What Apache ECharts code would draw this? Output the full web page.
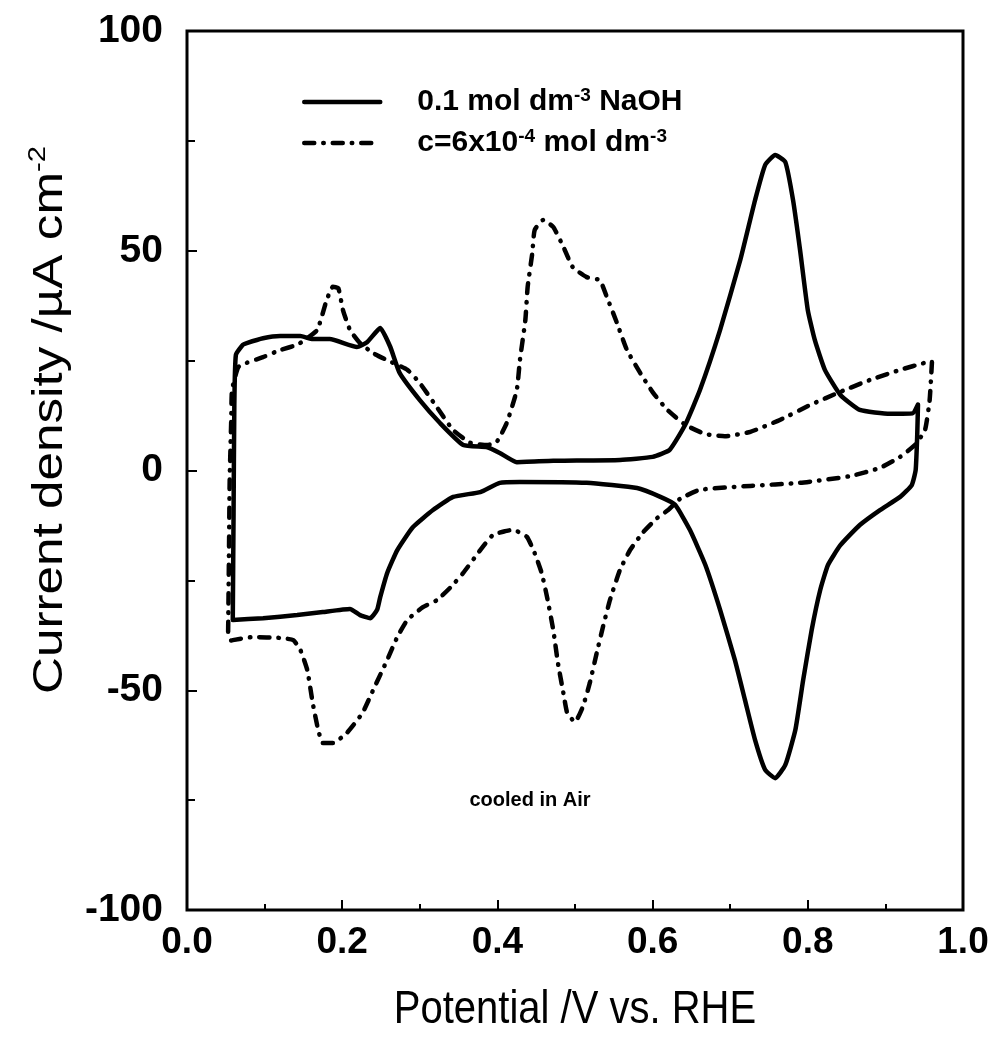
<!DOCTYPE html>
<html>
<head>
<meta charset="utf-8">
<script src="https://cdn.jsdelivr.net/npm/echarts@6/dist/echarts.min.js"></script>
<style>
  html, body { margin: 0; padding: 0; background: #fff; }
  #chart { width: 995px; height: 1049px; }
</style>
</head>
<body>
<div id="chart"></div>
<script>
// Cyclic voltammograms: potential (V vs. RHE) vs. current density (µA cm-2)

const xTicks = [0.0, 0.2, 0.4, 0.6, 0.8, 1.0];
const yTicks = [-100, -50, 0, 50, 100];

// 0.1 mol dm-3 NaOH — positive-going sweep
const naohAnodic = [
  [0.059,-34.0],[0.060,-10.0],[0.061,15.0],[0.063,26.3],[0.072,28.6],[0.077,29.0],
  [0.098,30.1],[0.120,30.6],[0.146,30.6],[0.162,29.9],[0.184,29.9],[0.219,28.1],
  [0.232,29.2],[0.249,32.4],[0.262,28.1],[0.274,22.2],[0.300,16.0],[0.326,10.8],
  [0.356,5.8],[0.387,5.3],[0.403,4.0],[0.425,1.9],[0.472,2.2],[0.558,2.4],
  [0.600,3.1],[0.622,4.7],[0.642,10.4],[0.661,18.3],[0.687,32.0],[0.713,47.9],
  [0.732,61.5],[0.745,69.5],[0.758,71.8],[0.771,70.2],[0.781,61.5],[0.790,50.2],
  [0.800,36.5],[0.809,29.7],[0.822,22.9],[0.842,17.2],[0.867,13.8],[0.906,12.9],
  [0.935,13.0],[0.942,15.0]
];
// 0.1 mol dm-3 NaOH — negative-going sweep
const naohCathodic = [
  [0.941,8.0],[0.939,0.1],[0.934,-3.3],[0.919,-6.0],[0.893,-9.0],[0.867,-12.4],
  [0.842,-17.0],[0.826,-21.5],[0.816,-27.2],[0.805,-36.3],[0.794,-47.7],[0.784,-59.0],
  [0.771,-67.0],[0.758,-70.0],[0.745,-68.1],[0.732,-61.3],[0.719,-52.2],[0.706,-43.1],
  [0.687,-31.7],[0.668,-21.5],[0.648,-13.5],[0.629,-7.8],[0.610,-6.0],[0.580,-4.0],
  [0.515,-2.8],[0.429,-2.6],[0.403,-2.8],[0.378,-4.9],[0.343,-6.0],[0.317,-9.0],
  [0.291,-12.9],[0.271,-18.1],[0.258,-23.3],[0.249,-28.8],[0.245,-31.7],[0.236,-33.6],
  [0.223,-32.9],[0.210,-31.5],[0.175,-32.2],[0.142,-32.9],[0.098,-33.6],[0.059,-34.0]
];

// c = 6x10-4 mol dm-3 — positive-going sweep
const diluteAnodic = [
  [0.053,-36.7],[0.054,-20.4],[0.055,-2.2],[0.057,11.5],[0.058,18.3],[0.066,23.5],
  [0.077,24.5],[0.098,25.8],[0.120,27.4],[0.142,28.6],[0.155,30.1],[0.168,32.0],
  [0.180,38.8],[0.188,41.8],[0.195,41.5],[0.201,36.5],[0.210,32.0],[0.223,29.0],
  [0.240,26.7],[0.258,25.1],[0.284,22.9],[0.300,19.9],[0.322,14.4],[0.343,9.2],
  [0.365,6.3],[0.387,5.8],[0.399,6.5],[0.412,10.8],[0.425,18.3],[0.429,25.1],
  [0.436,34.2],[0.439,41.8],[0.445,49.5],[0.448,54.7],[0.459,57.0],[0.472,55.4],
  [0.485,50.9],[0.497,46.3],[0.515,44.0],[0.532,43.3],[0.541,39.5],[0.554,33.6],
  [0.567,27.4],[0.584,22.2],[0.601,17.6],[0.619,13.8],[0.642,10.4],[0.668,8.3],
  [0.693,7.8],[0.726,8.8],[0.764,11.5],[0.803,14.9],[0.842,17.9],[0.880,20.6],
  [0.919,22.9],[0.951,24.5],[0.960,24.7]
];
// c = 6x10-4 mol dm-3 — negative-going sweep
const diluteCathodic = [
  [0.957,16.0],[0.951,9.2],[0.938,5.8],[0.919,3.1],[0.893,0.6],[0.854,-1.3],
  [0.790,-2.8],[0.726,-3.5],[0.661,-4.4],[0.635,-6.5],[0.620,-9.0],[0.606,-10.8],
  [0.588,-14.0],[0.571,-18.1],[0.558,-22.6],[0.545,-29.5],[0.536,-35.6],[0.528,-41.5],
  [0.519,-48.4],[0.510,-53.8],[0.500,-57.2],[0.490,-55.2],[0.485,-50.6],[0.478,-43.8],
  [0.472,-36.3],[0.464,-28.8],[0.457,-23.3],[0.448,-18.8],[0.438,-15.1],[0.420,-13.5],
  [0.410,-13.8],[0.394,-14.7],[0.378,-18.1],[0.356,-23.3],[0.339,-26.7],[0.322,-29.5],
  [0.304,-31.1],[0.284,-34.0],[0.271,-37.9],[0.258,-43.1],[0.240,-49.9],[0.226,-55.2],
  [0.206,-59.7],[0.188,-62.0],[0.175,-62.0],[0.169,-59.0],[0.162,-52.9],[0.155,-45.4],
  [0.146,-40.8],[0.137,-38.6],[0.120,-38.1],[0.085,-37.9],[0.059,-38.6],[0.049,-39.0]
];

const seriesNames = ['0.1 mol dm-3 NaOH', 'c=6x10-4 mol dm-3'];
const legendRich = {
  '0.1 mol dm-3 NaOH': '{t|0.1 mol dm}{s|-3}{t| NaOH}',
  'c=6x10-4 mol dm-3': '{t|c=6x10}{s|-4}{t| mol dm}{s|-3}'
};

const FONT = '"Liberation Sans", Arial, Helvetica, sans-serif';
const chart = echarts.init(document.getElementById('chart'), null, { renderer: 'canvas' });

const tickStyle = { color: '#000', width: 2 };

chart.setOption({
  backgroundColor: '#fff',
  animation: false,
  grid: {
    left: 187, top: 31, width: 776, height: 879,
    show: true, borderColor: '#000', borderWidth: 3, backgroundColor: 'transparent'
  },
  legend: {
    left: 302, top: 86, orient: 'vertical', padding: 0,
    itemWidth: 76, itemHeight: 14, itemGap: 10,
    data: seriesNames,
    formatter: name => legendRich[name],
    lineStyle: { width: 4.5 },
    itemStyle: { color: 'rgba(0,0,0,0)', borderColor: 'rgba(0,0,0,0)', borderWidth: 0, opacity: 0 },
    textStyle: {
      padding: [0, 0, 0, 32],
      rich: {
        t: { fontFamily: FONT, fontSize: 30, fontWeight: 'bold', color: '#000', lineHeight: 32 },
        s: { fontFamily: FONT, fontSize: 19, fontWeight: 'bold', color: '#000', lineHeight: 18, verticalAlign: 'top' }
      }
    }
  },
  xAxis: {
    type: 'value', min: 0, max: 1, interval: 0.2,
    axisLine: { show: false, onZero: false },
    axisTick: { show: true, inside: true, length: 10, lineStyle: tickStyle },
    minorTick: { show: true, splitNumber: 2, length: 6, lineStyle: tickStyle },
    splitLine: { show: false },
    axisLabel: {
      margin: 14, color: '#000', fontFamily: FONT, fontSize: 37, fontWeight: 'bold',
      formatter: v => xTicks.find(t => Math.abs(t - v) < 1e-9).toFixed(1)
    }
  },
  yAxis: {
    type: 'value', min: -100, max: 100, interval: 50,
    axisLine: { show: false, onZero: false },
    axisTick: { show: true, inside: true, length: 10, lineStyle: tickStyle },
    minorTick: { show: true, splitNumber: 2, length: 8, lineStyle: tickStyle },
    splitLine: { show: false },
    axisLabel: {
      margin: 24, color: '#000', fontFamily: FONT, fontSize: 39, fontWeight: 'bold',
      formatter: v => String(yTicks.find(t => Math.abs(t - v) < 1e-9))
    }
  },
  graphic: [
    {
      // y-axis title, read bottom to top
      type: 'text', x: 50, y: 420, rotation: Math.PI / 2, scaleX: 1.22,
      style: {
        text: '{t|Current density /µA cm}{s|-2}',
        align: 'center', verticalAlign: 'middle',
        rich: {
          t: { fontFamily: FONT, fontSize: 42, fill: '#000', lineHeight: 48 },
          s: { fontFamily: FONT, fontSize: 24, fill: '#000', lineHeight: 24, verticalAlign: 'top' }
        }
      }
    },
    {
      // x-axis title
      type: 'text', x: 575, y: 1010, scaleY: 1.15,
      style: {
        text: 'Potential /V vs. RHE', fill: '#000',
        font: '40px ' + FONT, align: 'center', verticalAlign: 'middle'
      }
    },
    {
      type: 'text', x: 530, y: 800,
      style: {
        text: 'cooled in Air', fill: '#000',
        font: 'bold 20px ' + FONT, align: 'center', verticalAlign: 'middle'
      }
    }
  ],
  series: [
    {
      name: seriesNames[0], type: 'line', symbol: 'none', smooth: 0.15,
      data: naohAnodic.concat(naohCathodic),
      lineStyle: { color: '#000', width: 4.5, cap: 'round', join: 'round' },
      itemStyle: { color: '#000' }
    },
    {
      name: seriesNames[1], type: 'line', symbol: 'none', smooth: 0.15,
      data: diluteAnodic.concat(diluteCathodic),
      lineStyle: { color: '#000', width: 4.5, type: [10, 9, 0.5, 9], cap: 'round', join: 'round' },
      itemStyle: { color: '#000' }
    }
  ]
});
</script>
</body>
</html>
